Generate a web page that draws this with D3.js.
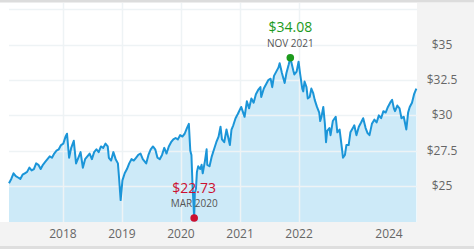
<!DOCTYPE html>
<html>
<head>
<meta charset="utf-8">
<script src="https://d3js.org/d3.v7.min.js"></script>
<style>
  body { margin: 0; background: #fff; }
  text { font-family: "Open Sans", sans-serif; }
</style>
</head>
<body>
<script>
// price history (roughly every two weeks)
var dates = [
  "2017-02-01","2017-02-15","2017-03-01","2017-03-15","2017-03-29","2017-04-12","2017-04-26","2017-05-10","2017-05-24","2017-06-07","2017-06-21","2017-07-05","2017-07-19","2017-08-02","2017-08-16","2017-08-30","2017-09-13","2017-09-27","2017-10-11","2017-10-25","2017-11-08","2017-11-22","2017-12-06","2017-12-20",
  "2018-01-03","2018-01-17","2018-01-26","2018-02-08","2018-02-21","2018-03-09","2018-03-23","2018-04-06","2018-04-20","2018-05-04","2018-05-18","2018-06-01","2018-06-15","2018-06-29","2018-07-13","2018-07-27","2018-08-10","2018-08-24","2018-09-07","2018-09-21","2018-10-05","2018-10-12","2018-10-26","2018-11-09","2018-11-23","2018-12-07","2018-12-14","2018-12-24",
  "2019-01-04","2019-01-18","2019-02-01","2019-02-15","2019-03-01","2019-03-15","2019-03-29","2019-04-12","2019-04-26","2019-05-10","2019-05-31","2019-06-14","2019-06-28","2019-07-12","2019-07-26","2019-08-09","2019-08-23","2019-09-06","2019-09-20","2019-10-04","2019-10-18","2019-11-01","2019-11-15","2019-11-29","2019-12-13","2019-12-27",
  "2020-01-10","2020-01-24","2020-02-07","2020-02-19","2020-02-28","2020-03-06","2020-03-13","2020-03-23","2020-03-27","2020-04-03","2020-04-09","2020-04-17","2020-04-30","2020-05-08","2020-05-15","2020-05-29","2020-06-08","2020-06-12","2020-06-26","2020-07-10","2020-07-24","2020-08-07","2020-08-21","2020-09-02","2020-09-11","2020-09-25","2020-10-09","2020-10-30","2020-11-09","2020-11-20","2020-12-04","2020-12-18",
  "2021-01-08","2021-01-29","2021-02-12","2021-02-26","2021-03-12","2021-03-26","2021-04-09","2021-04-23","2021-05-07","2021-05-12","2021-05-28","2021-06-11","2021-06-25","2021-07-09","2021-07-19","2021-07-30","2021-08-13","2021-08-27","2021-09-03","2021-09-17","2021-10-04","2021-10-15","2021-10-29","2021-11-08","2021-11-26","2021-12-03","2021-12-17","2021-12-29",
  "2022-01-07","2022-01-21","2022-01-27","2022-02-04","2022-02-16","2022-02-24","2022-03-08","2022-03-18","2022-03-29","2022-04-08","2022-04-22","2022-05-06","2022-05-12","2022-05-20","2022-05-31","2022-06-10","2022-06-17","2022-06-24","2022-07-08","2022-07-15","2022-07-29","2022-08-16","2022-08-26","2022-09-09","2022-09-23","2022-09-30","2022-10-12","2022-10-21","2022-11-04","2022-11-15","2022-11-30","2022-12-09","2022-12-22",
  "2023-01-06","2023-01-20","2023-02-02","2023-02-17","2023-03-01","2023-03-13","2023-03-28","2023-04-12","2023-04-26","2023-05-10","2023-05-24","2023-06-07","2023-06-21","2023-07-05","2023-07-19","2023-07-31","2023-08-11","2023-08-18","2023-09-01","2023-09-15","2023-09-27","2023-10-11","2023-10-27","2023-11-07","2023-11-17","2023-12-01","2023-12-14","2023-12-28"
];
var prices = [
  25.2,25.5,25.9,25.7,25.6,25.5,25.8,25.9,26.0,26.3,26.1,26.2,26.6,26.5,26.2,26.5,26.7,26.9,27.1,27.0,27.3,27.5,27.6,27.9,
  28.0,28.5,28.7,27.0,27.7,28.2,26.6,27.0,27.4,26.3,26.9,27.1,27.3,26.9,27.4,27.6,27.4,27.8,27.7,28.0,27.8,27.0,26.8,27.4,26.9,26.6,25.6,24.0,
  25.4,25.9,26.2,26.6,26.9,26.8,27.0,27.2,27.3,26.9,26.6,27.2,27.6,27.8,27.6,27.0,26.9,27.2,27.7,27.3,27.8,28.1,28.3,28.4,28.3,28.6,
  28.5,28.7,29.1,29.4,27.5,27.2,25.0,22.73,24.5,24.8,26.0,26.4,26.2,26.5,25.9,26.8,27.6,26.5,26.4,27.1,27.6,28.1,28.5,29.2,28.3,28.1,29.0,27.9,29.0,29.3,29.8,30.1,
  30.6,29.9,31.0,30.5,31.2,30.9,31.5,31.8,32.0,31.3,31.9,32.2,32.5,32.6,32.0,32.8,33.1,33.4,33.7,33.0,32.3,33.0,33.6,34.08,33.2,32.9,33.1,33.8,
  33.0,31.9,31.7,32.4,32.0,31.2,31.3,31.9,31.6,31.1,30.6,30.2,29.6,29.9,30.6,29.4,28.1,28.9,29.1,28.6,29.6,29.9,28.8,29.0,27.7,27.0,27.2,27.9,27.9,28.8,29.1,29.3,28.6,
  29.2,29.5,29.8,29.1,28.75,28.6,29.4,29.7,29.5,30.0,29.8,30.3,30.2,30.6,30.9,31.1,30.5,30.3,30.7,30.5,29.8,29.9,29.0,30.2,30.6,30.9,31.5,31.9
];
var yTicks = [25, 27.5, 30, 32.5, 35];
var yGrid = [25, 27.5, 30, 32.5, 35, 37.5];
var xGridYears = [2018, 2019, 2020, 2021, 2022];
var xLabelYears = [2018, 2019, 2020, 2021, 2022, 2024];
var highNote = {date: "2021-11-08", value: 34.08, label: "NOV 2021"};
var lowNote = {date: "2020-03-23", value: 22.73, label: "MAR 2020"};

var W = 474, H = 249;
var plot = {left: 9, right: 417, top: 3, bottom: 222};
var parse = d3.timeParse("%Y-%m-%d");
var data = dates.map(function(d, i) { return {date: parse(d), value: prices[i]}; });

var svg = d3.select("body").append("svg")
  .attr("width", W).attr("height", H);

// background bands
svg.append("rect").attr("x", 0).attr("y", plot.bottom).attr("width", W).attr("height", H - plot.bottom).attr("fill", "#f3f3f3");
svg.append("rect").attr("x", plot.right).attr("y", plot.top).attr("width", W - plot.right).attr("height", H - plot.top).attr("fill", "#f3f3f3");
svg.append("rect").attr("x", 0).attr("y", 0).attr("width", W).attr("height", 2.5).attr("fill", "#dcdcdc");
svg.append("rect").attr("x", 0).attr("y", 246).attr("width", W).attr("height", 3).attr("fill", "#dedede");

var x = d3.scaleTime()
  .domain([parse("2017-02-01"), parse("2024-01-01")])
  .range([plot.left, plot.right]);
var y = d3.scaleLinear()
  .domain([22.45, 37.96])
  .range([plot.bottom, plot.top]);

// area fill
svg.append("path").datum(data)
  .attr("fill", "#cdeaf8")
  .attr("d", d3.area().x(function(d) { return x(d.date); }).y0(plot.bottom).y1(function(d) { return y(d.value); }));

// grid
svg.append("g").selectAll("line").data(yGrid).enter().append("line")
  .attr("x1", plot.left).attr("x2", plot.right)
  .attr("y1", function(d) { return Math.round(y(d)) + 0.5; })
  .attr("y2", function(d) { return Math.round(y(d)) + 0.5; })
  .attr("stroke", "#eef3f5").attr("stroke-width", 1.5);
svg.append("g").selectAll("line").data(xGridYears).enter().append("line")
  .attr("x1", function(d) { return Math.round(x(new Date(d, 0, 1))) + 0.5; })
  .attr("x2", function(d) { return Math.round(x(new Date(d, 0, 1))) + 0.5; })
  .attr("y1", plot.top).attr("y2", plot.bottom)
  .attr("stroke", "#eef3f5").attr("stroke-width", 1.5);

// price line
svg.append("path").datum(data)
  .attr("fill", "none")
  .attr("stroke", "#1b95d8")
  .attr("stroke-width", 2)
  .attr("stroke-linejoin", "round")
  .attr("d", d3.line().x(function(d) { return x(d.date); }).y(function(d) { return y(d.value); }));

// axis labels
svg.append("g").selectAll("text").data(yTicks).enter().append("text")
  .attr("x", 442).attr("y", function(d) { return y(d) + 4; })
  .attr("text-anchor", "middle")
  .attr("font-size", 12).attr("fill", "#666")
  .text(function(d) { return "$" + d; });
svg.append("g").selectAll("text").data(xLabelYears).enter().append("text")
  .attr("x", function(d) { return x(new Date(d, 0, 1)) - (d === 2024 ? 28 : 0); })
  .attr("y", 238)
  .attr("text-anchor", "middle")
  .attr("font-size", 12).attr("fill", "#666")
  .text(function(d) { return d; });

// high / low notes
function note(n, color) {
  var cx = x(parse(n.date)), cy = y(n.value);
  svg.append("text").attr("x", cx).attr("y", cy - 25.5)
    .attr("text-anchor", "middle").attr("font-size", 14).attr("fill", color)
    .text("$" + n.value.toFixed(2));
  svg.append("text").attr("x", cx).attr("y", cy - 11)
    .attr("text-anchor", "middle").attr("font-size", 10).attr("fill", "#555")
    .text(n.label);
  svg.append("circle").attr("cx", cx).attr("cy", cy).attr("r", 3.8).attr("fill", color);
}
note(highNote, "#1c9a1c");
note(lowNote, "#cc1030");
</script>
</body>
</html>
